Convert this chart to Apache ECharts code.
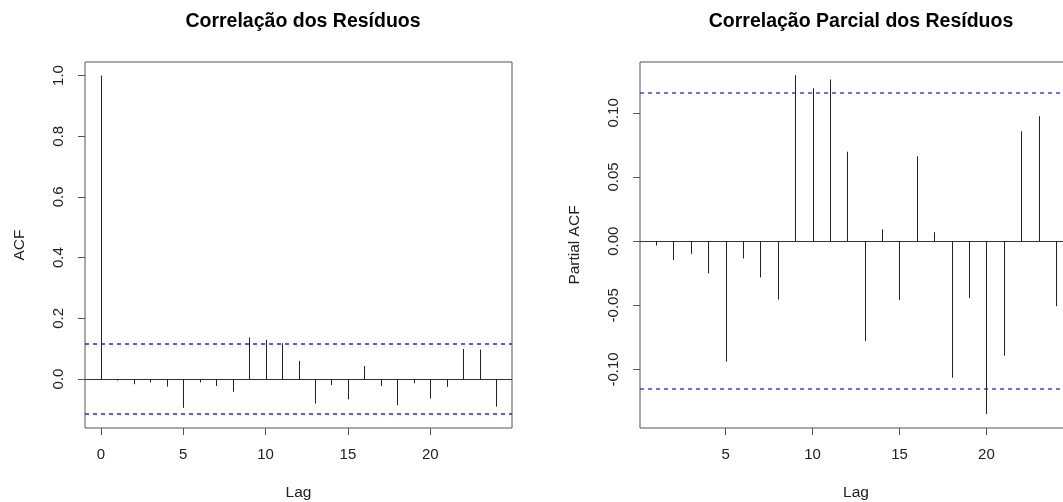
<!DOCTYPE html>
<html>
<head>
<meta charset="utf-8">
<script src="https://cdn.jsdelivr.net/npm/echarts@6/dist/echarts.min.js"></script>
<style>
html,body{margin:0;padding:0;background:#fff;overflow:hidden;}
#chart{width:1063px;height:502px;}
</style>
</head>
<body>
<div id="chart"></div>
<script>
// ---- data ----
const acfLags = [0,1,2,3,4,5,6,7,8,9,10,11,12,13,14,15,16,17,18,19,20,21,22,23,24];
const acfValues = [1.0,-0.005,-0.017,-0.011,-0.025,-0.095,-0.011,-0.023,-0.042,0.137,0.129,0.118,0.060,-0.081,-0.020,-0.067,0.043,-0.023,-0.086,-0.014,-0.064,-0.026,0.099,0.097,-0.091];
const pacfLags = [1,2,3,4,5,6,7,8,9,10,11,12,13,14,15,16,17,18,19,20,21,22,23,24];
const pacfValues = [-0.0034,-0.0148,-0.0099,-0.0252,-0.0939,-0.0135,-0.0283,-0.0455,0.1293,0.1191,0.1259,0.0697,-0.0778,0.0091,-0.0458,0.0661,0.0070,-0.1064,-0.0442,-0.1347,-0.0892,0.0856,0.0973,-0.0507];
const confLimits = [0.1153, -0.1153];
const acfXTicks = [0,5,10,15,20];
const acfYTicks = [0,0.2,0.4,0.6,0.8,1.0];
const pacfXTicks = [5,10,15,20];
const pacfYTicks = [-0.10,-0.05,0,0.05,0.10];
const titles = ['Correlação dos Resíduos','Correlação Parcial dos Resíduos'];
const yNames = ['ACF','Partial ACF'];
const xName = 'Lag';

// ---- chart ----
const FONT = '"Liberation Sans", Arial, sans-serif';
const TXT = '#222';
const BOX = '#555';

function pairs(xs, ys){ return xs.map((x,i)=>[x, ys[i]]); }

function stemSeries(idx, data){
  return {
    type:'custom', xAxisIndex:idx, yAxisIndex:idx, data:data,
    renderItem:function(params, api){
      const p0 = api.coord([api.value(0), 0]);
      const p1 = api.coord([api.value(0), api.value(1)]);
      const x = Math.round(p0[0]) + 0.5;
      return {type:'line', shape:{x1:x, y1:p0[1], x2:x, y2:p1[1]},
        style:{stroke:'#222', lineWidth:1}};
    },
    z:3
  };
}

// horizontal reference line(s) spanning the whole plot area
function hLineSeries(idx, values, color, dash, width, crisp){
  return {
    type:'custom', xAxisIndex:idx, yAxisIndex:idx,
    data: values.map(v=>[0, v]),
    encode:{x:0, y:1},
    renderItem:function(params, api){
      const c = params.coordSys;
      let y = api.coord([0, api.value(1)])[1];
      y = crisp ? Math.round(y) + 0.5 : Math.round(y);
      const style = {stroke:color, lineWidth:width};
      if (dash) style.lineDash = dash;
      return {type:'line', shape:{x1:c.x, y1:y, x2:c.x + c.width, y2:y}, style:style};
    },
    z:2
  };
}

function xAxisCfg(idx, min, max, ticks){
  return {
    type:'value', gridIndex:idx, min:min, max:max,
    name:xName, nameLocation:'middle', nameGap:57,
    nameTextStyle:{fontFamily:FONT, fontSize:15.5, color:TXT},
    axisLine:{show:false, onZero:false},
    axisTick:{show:true, length:7, customValues:ticks, lineStyle:{color:BOX}},
    axisLabel:{show:true, customValues:ticks, margin:19, fontFamily:FONT, fontSize:15, color:TXT,
      formatter:function(v){return String(v);}},
    splitLine:{show:false}
  };
}

function yAxisCfg(idx, min, max, ticks, dec){
  return {
    type:'value', gridIndex:idx, min:min, max:max,
    name:yNames[idx], nameLocation:'middle', nameGap:57,
    nameTextStyle:{fontFamily:FONT, fontSize:15.5, color:TXT},
    axisLine:{show:false, onZero:false},
    axisTick:{show:true, length:7, customValues:ticks, lineStyle:{color:BOX}},
    axisLabel:{show:true, customValues:ticks, rotate:90, margin:19, fontFamily:FONT, fontSize:15, color:TXT,
      formatter:function(v){return v.toFixed(dec);}},
    splitLine:{show:false}
  };
}

const chart = echarts.init(document.getElementById('chart'), null, {renderer:'canvas'});
chart.setOption({
  backgroundColor:'#fff',
  animation:false,
  title:[
    {text:titles[0], left:298, top:7, textAlign:'center',
      textStyle:{fontFamily:FONT, fontSize:19.5, fontWeight:'bold', color:'#000'}},
    {text:titles[1], left:856, top:7, textAlign:'center',
      textStyle:{fontFamily:FONT, fontSize:19.5, fontWeight:'bold', color:'#000'}}
  ],
  grid:[
    {left:85, top:62, width:427, height:366, show:true, borderColor:BOX, borderWidth:1,
      backgroundColor:'transparent', outerBoundsMode:'none', containLabel:false},
    {left:640, top:62, width:432, height:366, show:true, borderColor:BOX, borderWidth:1,
      backgroundColor:'transparent', outerBoundsMode:'none', containLabel:false}
  ],
  xAxis:[
    xAxisCfg(0, -0.96, 24.96, acfXTicks),
    xAxisCfg(1, 0.08, 24.92, pacfXTicks)
  ],
  yAxis:[
    yAxisCfg(0, -0.1614, 1.0446, acfYTicks, 1),
    yAxisCfg(1, -0.1456, 0.1396, pacfYTicks, 2)
  ],
  series:[
    hLineSeries(0, [0], '#333', null, 1, true),
    hLineSeries(1, [0], '#333', null, 1, true),
    hLineSeries(0, confLimits, '#2020ff', [4,4], 1.3, false),
    hLineSeries(1, confLimits, '#2020ff', [4,4], 1.3, false),
    stemSeries(0, pairs(acfLags, acfValues)),
    stemSeries(1, pairs(pacfLags, pacfValues))
  ]
});
</script>
</body>
</html>
